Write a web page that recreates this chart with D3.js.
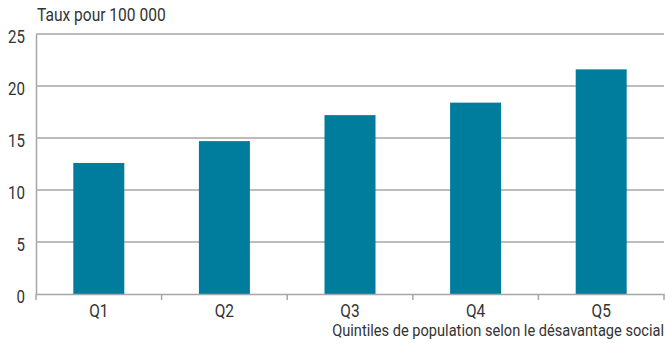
<!DOCTYPE html>
<html>
<head>
<meta charset="utf-8">
<script src="https://cdn.jsdelivr.net/npm/d3@7"></script>
<style>
  body { margin: 0; background: #fff; }
  text { font-family: "Roboto", sans-serif; fill: #333; }
</style>
</head>
<body>
<script>
var categories = ["Q1", "Q2", "Q3", "Q4", "Q5"];
var values = [12.6, 14.7, 17.2, 18.4, 21.6];
var yTicks = [0, 5, 10, 15, 20, 25];

var bar_col = "#007d9c",
    grid_col = "#a6a6a6";

var W = 666, H = 343;
var margin = { top: 34, right: 2, bottom: 49, left: 36 };
var width = W - margin.left - margin.right,
    height = H - margin.top - margin.bottom;

var svg = d3.select("body").append("svg")
    .attr("width", W)
    .attr("height", H)
    .append("g")
    .attr("transform", "translate(" + margin.left + "," + margin.top + ")");

var x = d3.scaleBand()
    .domain(categories)
    .range([0, width])
    .paddingInner(0.594)
    .paddingOuter(0.297);

var xb = d3.scaleBand()
    .domain(categories)
    .range([0, width]);

var y = d3.scaleLinear()
    .domain([0, 25])
    .range([height, 0]);

// gridlines
svg.append("g").selectAll("line")
    .data(yTicks.filter(function(d) { return d > 0; }))
    .join("line")
    .attr("x1", 0)
    .attr("x2", width)
    .attr("y1", function(d) { return y(d); })
    .attr("y2", function(d) { return y(d); })
    .attr("stroke", grid_col)
    .attr("stroke-width", 1.5);

// bars
svg.append("g").selectAll("rect")
    .data(values)
    .join("rect")
    .attr("x", function(d, i) { return x(categories[i]); })
    .attr("y", function(d) { return y(d); })
    .attr("width", x.bandwidth())
    .attr("height", function(d) { return height - y(d); })
    .attr("fill", bar_col);

// y axis (labels squeezed horizontally for a condensed look)
var ky = 0.84;
var yAxis = svg.append("g")
    .call(d3.axisLeft(y).tickValues(yTicks).tickSize(0));
yAxis.select(".domain").attr("stroke", grid_col).attr("stroke-width", 1.5);
yAxis.selectAll("text")
    .attr("x", -11 / ky)
    .attr("dy", "0.48em")
    .attr("transform", "scale(" + ky + ",1)")
    .attr("font-size", "18px")
    .style("font-family", '"Roboto", sans-serif')
    .attr("fill", "#333");

// x axis
var kx = 0.86;
var xAxis = svg.append("g")
    .attr("transform", "translate(0," + height + ")")
    .call(d3.axisBottom(xb).tickSize(0).tickPadding(10));
xAxis.select(".domain").attr("stroke", grid_col).attr("stroke-width", 1.5);
xAxis.selectAll("text")
    .attr("transform", "scale(" + kx + ",1)")
    .attr("font-size", "18px")
    .style("font-family", '"Roboto", sans-serif')
    .attr("fill", "#333");

// category boundary ticks
svg.append("g").selectAll("line")
    .data(categories.concat(["end"]))
    .join("line")
    .attr("x1", function(d, i) { return i < categories.length ? xb(d) : width; })
    .attr("x2", function(d, i) { return i < categories.length ? xb(d) : width; })
    .attr("y1", height)
    .attr("y2", height + 6)
    .attr("stroke", grid_col)
    .attr("stroke-width", 1.5);

// titles
svg.append("text")
    .text("Taux pour 100 000")
    .attr("transform", "translate(1,-13) scale(0.89,1)")
    .attr("font-size", "17.5px");

svg.append("text")
    .text("Quintiles de population selon le désavantage social")
    .attr("transform", "translate(" + width + "," + (height + 42) + ") scale(0.86,1)")
    .attr("text-anchor", "end")
    .attr("font-size", "17px");
</script>
</body>
</html>
